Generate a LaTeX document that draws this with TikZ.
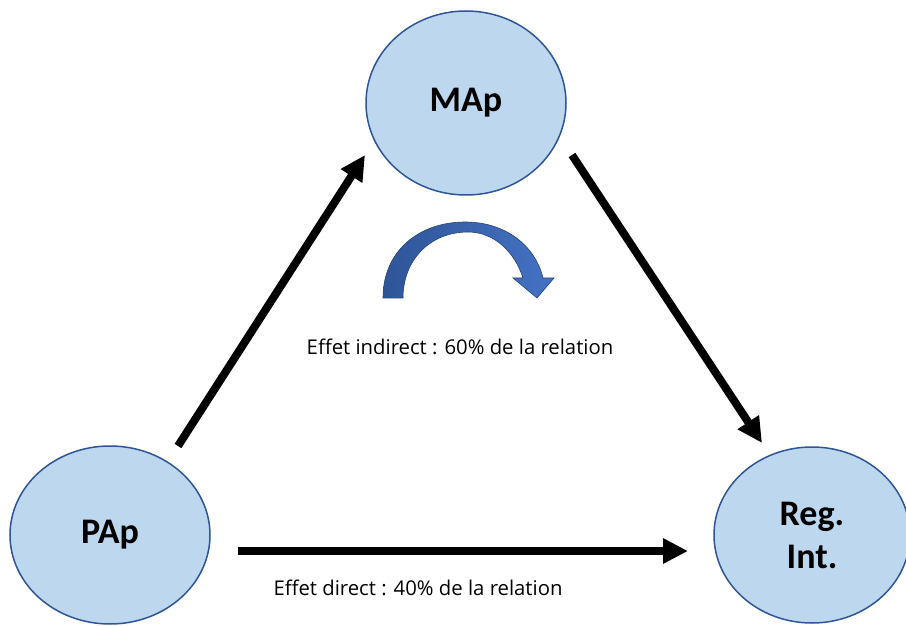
\documentclass[tikz,border=0pt]{standalone}
\usepackage{fontspec}
\setmainfont{Carlito}
\newfontfamily\notefont{Open Sans}
\usetikzlibrary{arrows.meta,shapes.geometric}
\definecolor{fillblue}{HTML}{BDD7EE}
\definecolor{lineblue}{HTML}{2F5597}
\definecolor{darkarrow}{HTML}{2F5597}
\definecolor{lightarrow}{HTML}{4472C4}
\tikzset{
  bubble/.style={ellipse, draw=lineblue, line width=1.5pt, fill=fillblue, inner sep=0pt,
    font=\fontsize{36}{43}\selectfont\bfseries, align=center},
  bigarrow/.style={line width=8pt, -{Triangle[length=25pt,width=24pt]}},
  note/.style={font=\notefont\fontsize{20.3}{23}\selectfont}
}
\begin{document}
\begin{tikzpicture}[x=1pt,y=1pt]
\useasboundingbox (0,0) rectangle (906,625);
\node[bubble, minimum width=200pt, minimum height=184pt] (map) at (466,522) {MAp};
\node[bubble, minimum width=200pt, minimum height=178pt] (pap) at (110,90) {PAp};
\node[bubble, minimum width=196pt, minimum height=176pt] (reg) at (812,90) {Reg.\\Int.};
\coordinate (a1s) at (178,179);
\coordinate (a1e) at (365,470);
\coordinate (a2s) at (572,470);
\coordinate (a2e) at (762,182);
\coordinate (a3s) at (238,74);
\coordinate (a3e) at (688,74);
\draw[bigarrow] (a1s) -- (a1e);
\draw[bigarrow] (a2s) -- (a2e);
\draw[bigarrow] (a3s) -- (a3e);
\node[note] (ind) at (460,278) {Effet indirect : 60\% de la relation};
\node[note] (dir) at (418,37) {Effet direct : 40\% de la relation};
\path[left color=darkarrow, right color=lightarrow, draw=darkarrow!80!black, line width=0.6pt]
  (383,327) .. controls (383,375) and (420,403) .. (465,403)
  .. controls (505,403) and (535,380) .. (543,347)
  -- (554,347) -- (537,327) -- (513,347) -- (523,347)
  .. controls (515,372) and (495,393) .. (468,393)
  .. controls (430,393) and (403,365) .. (403,327) -- cycle;
\end{tikzpicture}
\end{document}
